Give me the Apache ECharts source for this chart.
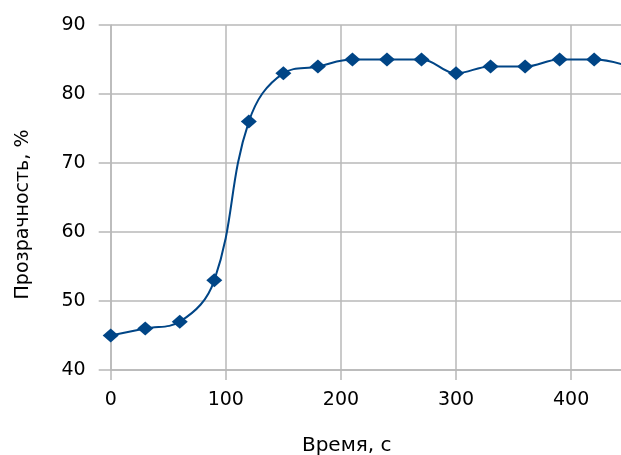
<!DOCTYPE html>
<html>
<head>
<meta charset="utf-8">
<script src="https://cdn.jsdelivr.net/npm/echarts@6/dist/echarts.min.js"></script>
<style>
html,body{margin:0;padding:0;background:#fff;}
#c{width:621px;height:455px;}
</style>
</head>
<body>
<div id="c"></div>
<script>
var times = [0, 30, 60, 90, 120, 150, 180, 210, 240, 270, 300, 330, 360, 390, 420, 450];
var transparency = [45, 46, 47, 53, 76, 83, 84, 85, 85, 85, 83, 84, 84, 85, 85, 84];
var xTicks = [0, 100, 200, 300, 400];
var yTicks = [40, 50, 60, 70, 80, 90];
var xName = 'Время, с';
var yName = 'Прозрачность, %';

var seriesData = times.map(function (t, i) { return [t, transparency[i]]; });
var gridColor = '#b8b8b8';
var font = 'DejaVu Sans';

var chart = echarts.init(document.getElementById('c'), null, {renderer: 'canvas'});
chart.setOption({
  animation: false,
  backgroundColor: '#ffffff',
  grid: {left: 110.7, top: 25, width: 518, height: 345, containLabel: false, outerBoundsMode: 'none'},
  xAxis: {
    type: 'value',
    min: 0, max: 450, interval: 100,
    name: xName,
    nameLocation: 'middle',
    nameGap: 66,
    nameTextStyle: {fontFamily: font, fontSize: 20, color: '#000', padding: [0, 46, 0, 0]},
    axisLine: {show: true, lineStyle: {color: gridColor, width: 1.5}},
    axisTick: {show: true, length: 10, lineStyle: {color: gridColor, width: 1.5}},
    axisLabel: {
      fontFamily: font, fontSize: 19, color: '#000', margin: 21,
      formatter: function (v) { return xTicks.indexOf(v) >= 0 ? String(v) : ''; }
    },
    splitLine: {show: true, lineStyle: {color: gridColor, width: 1.5}}
  },
  yAxis: {
    type: 'value',
    min: 40, max: 90, interval: 10,
    name: yName,
    nameLocation: 'middle',
    nameGap: 78,
    nameRotate: 90,
    nameTextStyle: {fontFamily: font, fontSize: 19, color: '#000', padding: [0, 34, 0, 0]},
    axisLine: {show: true, lineStyle: {color: gridColor, width: 1.5}},
    axisTick: {show: true, length: 12, lineStyle: {color: gridColor, width: 1.5}},
    axisLabel: {
      fontFamily: font, fontSize: 19, color: '#000', margin: 25,
      formatter: function (v) { return yTicks.indexOf(v) >= 0 ? String(v) : ''; }
    },
    splitLine: {show: true, lineStyle: {color: gridColor, width: 1.5}}
  },
  series: [{
    type: 'line',
    data: seriesData,
    smooth: 0.4,
    symbol: 'diamond',
    symbolSize: [16, 14],
    clip: false,
    lineStyle: {color: '#004586', width: 2},
    itemStyle: {color: '#004586'}
  }]
});
</script>
</body>
</html>
